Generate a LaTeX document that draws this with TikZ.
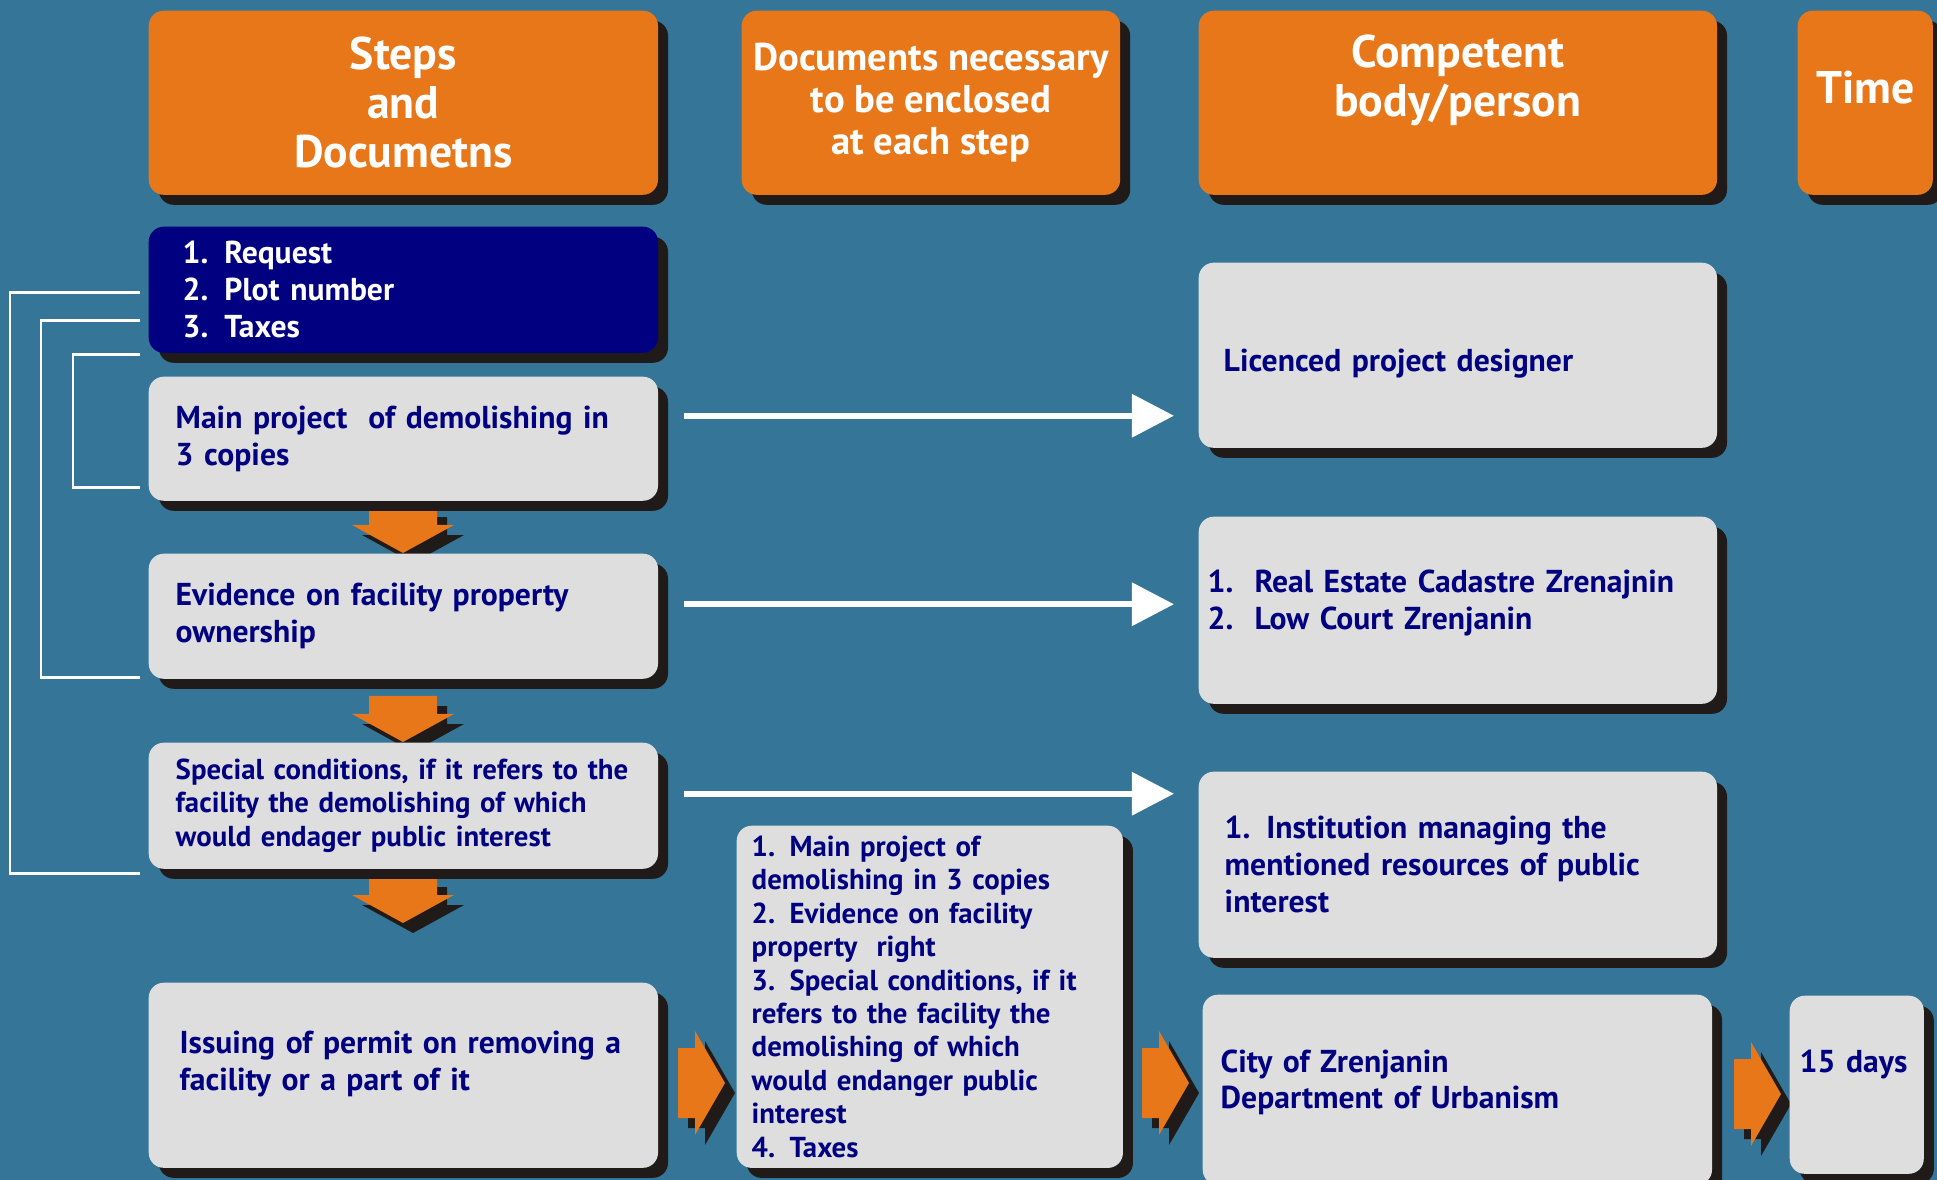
\documentclass[tikz,border=0pt]{standalone}
\usepackage{fontspec}
\setmainfont{PT Sans}
\usepackage{tikz}
\usetikzlibrary{shadows,arrows.meta,calc}
\definecolor{bgblue}{RGB}{52,117,152}
\definecolor{steporange}{RGB}{232,119,26}
\definecolor{stepnavy}{RGB}{0,0,128}
\definecolor{stepgray}{RGB}{222,222,222}
\definecolor{stepshade}{RGB}{32,27,25}
\newcommand\downarr[1]{\fill[orarrow] ([shift={(-34,-46)}]#1) -- ++(68,0) -- ++(0,18) -- ++(17,0) -- ++(-51,28) -- ++(-51,-28) -- ++(17,0) -- cycle;}
\newcommand\rightarr[1]{\fill[orarrow] ([shift={(-47,-35)}]#1) -- ++(17,0) -- ++(0,-17) -- ++(30,52) -- ++(-30,52) -- ++(0,-17) -- ++(-17,0) -- cycle;}

\begin{document}
\begin{tikzpicture}[x=.01cm,y=-.01cm,
	boxshadow/.style={drop shadow={shadow xshift=.1cm,shadow yshift=-.1cm,opacity=1,fill=stepshade}},
	headbox/.style={boxshadow,anchor=north west,fill=steporange,rounded corners=.15cm,text=white,align=center,minimum height=1.84cm,font=\fontsize{13}{14}\selectfont\bfseries},
	stepbox/.style={boxshadow,anchor=north west,fill=stepgray,rounded corners=.15cm,text=stepnavy,align=left,font=\fontsize{9}{10.5}\selectfont\bfseries},
	smalltext/.style={font=\fontsize{8.2}{9.5}\selectfont\bfseries},
	orarrow/.style={boxshadow,fill=steporange},
	link/.style={draw=white,line width=1.8pt,-{Triangle[length=.42cm,width=.42cm]},shorten >=.24cm},
	bracket/.style={draw=white,line width=.8pt}]
	\fill[bgblue] (0,0) rectangle (1937,1180);
	\useasboundingbox (0,0) rectangle (1937,1180);
	% flow arrows
	\downarr{403,553}
	\downarr{403,742}
	\downarr{403,923}
	\rightarr{725,1083}
	\rightarr{1189,1083}
	\rightarr{1781,1094}
	% header
	\node[headbox,minimum width=5.09cm] (steps) at (148,10) {Steps\\and\\Documetns};
	\node[headbox,minimum width=3.74cm,font=\fontsize{11}{12}\selectfont\bfseries] (docs) at (741,10) {Documents necessary\\to be enclosed\\at each step};
	\node[headbox,minimum width=5.18cm,text depth=.54cm] (comp) at (1198,10) {Competent\\body/person};
	\node[headbox,minimum width=1.35cm,text depth=.3cm] (time) at (1797,10) {Time};
	% steps
	\node[stepbox,fill=stepnavy,text=white,text width=4.41cm,inner xsep=.34cm,minimum height=1.26cm] (req) at (148,226) {1. Request\\2. Plot number\\3. Taxes};
	\node[stepbox,text width=4.55cm,inner xsep=.27cm,minimum height=1.24cm] (main) at (148,376) {Main project\ \ of demolishing in\\3 copies};
	\node[stepbox,text width=4.55cm,inner xsep=.27cm,minimum height=1.25cm] (evid) at (148,553) {Evidence on facility property\\ownership};
	\node[stepbox,smalltext,text width=4.55cm,inner xsep=.27cm,minimum height=1.26cm] (spec) at (148,742) {Special conditions, if it refers to the\\facility the demolishing of which\\would endager public interest};
	\node[stepbox,text width=4.47cm,inner xsep=.31cm,minimum height=1.85cm,text depth=18.5pt] (issue) at (148,982) {Issuing of permit on removing a\\facility or a part of it};
	\node[stepbox,smalltext,text width=3.56cm,inner xsep=.15cm,inner ysep=.05cm,minimum height=3.42cm] (enclosed) at (736,825) {1. Main project of\\demolishing in 3 copies\\2. Evidence on facility\\property\ \ right\\3. Special conditions, if it\\refers to the facility the\\demolishing of which\\would endanger public\\interest\\4. Taxes};
	% competent bodies
	\node[stepbox,text width=4.68cm,inner xsep=.25cm,minimum height=1.85cm,text height=11pt] (lic) at (1198,262) {Licenced project designer};
	\node[stepbox,text width=5cm,inner xsep=.09cm,minimum height=1.87cm,text depth=16.5pt] (cad) at (1198,516) {1.\ \ Real Estate Cadastre Zrenajnin\\2.\ \ Low Court Zrenjanin};
	\node[stepbox,text width=4.66cm,inner xsep=.26cm,minimum height=1.86cm] (inst) at (1198,771) {1. Institution managing the\\mentioned resources of public\\interest};
	\node[stepbox,text width=4.73cm,inner xsep=.18cm,minimum height=1.9cm,text depth=16.5pt] (city) at (1202,994) {City of Zrenjanin\\Department of Urbanism};
	\node[stepbox,text width=1.14cm,inner xsep=.1cm,minimum height=1.78cm,text depth=13.4pt] (days) at (1789,995) {15 days};
	% links
	\coordinate (a1) at ($(main.east)+(25,-23)$);
	\coordinate (a2) at ($(evid.east)+(25,-12)$);
	\coordinate (a3) at ($(spec.east)+(25,-12)$);
	\draw[link] (a1) -- (a1 -| lic.west);
	\draw[link] (a2) -- (a2 -| cad.west);
	\draw[link] (a3) -- (a3 -| inst.west);
	\draw[bracket] ($(req.west)+(-8,3)$) -- ++(-130,0) |- ($(spec.south west)+(-8,4)$);
	\draw[bracket] ($(req.west)+(-8,31)$) -- ++(-99,0) |- ($(evid.south west)+(-8,-2)$);
	\draw[bracket] ($(req.south west)+(-8,1)$) -- ++(-67,0) |- ($(main.south west)+(-8,-14)$);
\end{tikzpicture}
\end{document}
